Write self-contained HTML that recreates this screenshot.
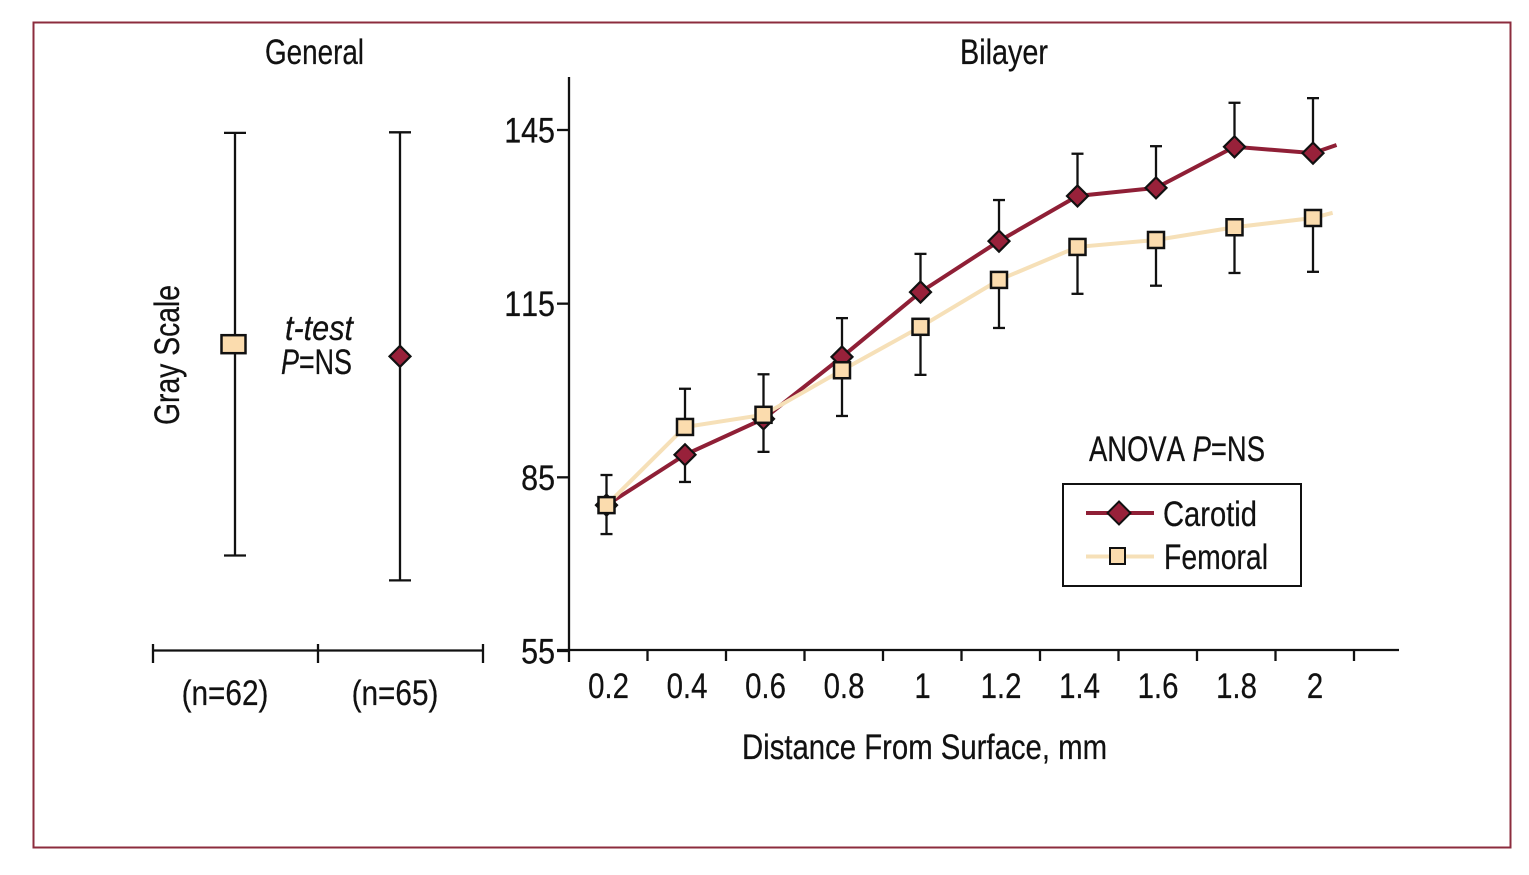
<!DOCTYPE html>
<html lang="en">
<head>
<meta charset="utf-8">
<title>Gray Scale: General and Bilayer</title>
<style>
html,body{margin:0;padding:0;background:#fff;width:1529px;height:875px;overflow:hidden}
svg{display:block}
text{font-family:"Liberation Sans",sans-serif;font-size:35px;fill:#111;font-kerning:none;stroke:#111;stroke-width:0.25px}
</style>
</head>
<body>
<svg id="figure" xmlns="http://www.w3.org/2000/svg" width="1529" height="875" viewBox="0 0 1529 875">
  <rect x="33.5" y="22.5" width="1477" height="825" fill="#fff" stroke="#8c2c3e" stroke-width="2"/>
  <g id="general-panel"></g>
  <g id="bilayer-panel"></g>

  <text x="265" y="64" textLength="99" lengthAdjust="spacingAndGlyphs">General</text>
  <text x="960" y="64" textLength="88" lengthAdjust="spacingAndGlyphs">Bilayer</text>
  <text transform="translate(179,425) rotate(-90)" textLength="140" lengthAdjust="spacingAndGlyphs">Gray Scale</text>
  <text x="285" y="340" font-style="italic" textLength="68" lengthAdjust="spacingAndGlyphs">t-test</text>
  <text x="281" y="374" textLength="71" lengthAdjust="spacingAndGlyphs"><tspan font-style="italic">P</tspan>=NS</text>
  <text x="742" y="759" textLength="365" lengthAdjust="spacingAndGlyphs">Distance From Surface, mm</text>
  <text x="1089" y="461" textLength="176" lengthAdjust="spacingAndGlyphs">ANOVA <tspan font-style="italic">P</tspan>=NS</text>

  <g>
    <rect x="1063" y="484" width="238" height="102" fill="#fff" stroke="#111" stroke-width="2"/>
    <g>
      <line x1="1086" y1="513" x2="1154" y2="513" stroke="#8f1f36" stroke-width="4"/>
      <polygon points="1119,501.5 1130.5,513 1119,524.5 1107.5,513" fill="#98213a" stroke="#111" stroke-width="2"/>
      <text x="1163" y="526" textLength="94" lengthAdjust="spacingAndGlyphs">Carotid</text>
    </g>
    <g>
      <line x1="1086" y1="556.5" x2="1154" y2="556.5" stroke="#f6e0b8" stroke-width="4"/>
      <rect x="1110" y="548" width="15" height="16" fill="#fbdcae" stroke="#111" stroke-width="2"/>
      <text x="1164" y="569" textLength="104" lengthAdjust="spacingAndGlyphs">Femoral</text>
    </g>
  </g>
</svg>
<script>
// Bilayer panel data
const distances = [0.2, 0.4, 0.6, 0.8, 1, 1.2, 1.4, 1.6, 1.8, 2];
const distanceLabels = ['0.2', '0.4', '0.6', '0.8', '1', '1.2', '1.4', '1.6', '1.8', '2'];
const yTickValues = [55, 85, 115, 145];
const carotidMeans = [80.2, 88.9, 95.1, 105.8, 117.0, 125.8, 133.6, 135.0, 142.1, 141.0];
const carotidUpper = [85.4, null, null, 112.5, 123.6, 132.9, 140.9, 142.2, 149.7, 150.5];
const carotidLower = [75.2, 84.2, 89.4, null, null, null, null, null, null, null];
const carotidLineEnd = [2.06, 142.4];
const femoralMeans = [80.2, 93.7, 95.8, 103.5, 111.0, 119.1, 124.8, 126.0, 128.2, 129.8];
const femoralUpper = [null, 100.3, 102.8, null, null, null, null, null, null, null];
const femoralLower = [null, null, null, 95.6, 102.7, 110.8, 116.7, 118.1, 120.3, 120.5];
const femoralLineEnd = [2.05, 130.7];

// General panel data
const generalGroups = ['(n=62)', '(n=65)'];
const generalMeans = [108.0, 105.9];
const generalDeviations = [36.5, 38.7];

const SVG_NS = 'http://www.w3.org/2000/svg';
const INK = '#111';
const CAROTID_LINE = '#8f1f36';
const CAROTID_FILL = '#98213a';
const FEMORAL_LINE = '#f6e0b8';
const FEMORAL_FILL = '#fbdcae';

function yScale(v) { return 651 - (v - 55) * 5.789; }
function xScale(d) { return 606.5 + (d - 0.2) / 0.2 * 78.5; }
function bandEdge(i) { return 569 + i * 78.5; }
function groupX(i) { return 235 + i * 165; }

function make(parent, tag, attrs) {
  const el = document.createElementNS(SVG_NS, tag);
  for (const k in attrs) el.setAttribute(k, attrs[k]);
  parent.appendChild(el);
  return el;
}
function seg(parent, x1, y1, x2, y2, w) {
  return make(parent, 'line', { x1: x1, y1: y1, x2: x2, y2: y2, stroke: INK, 'stroke-width': w || 2.3 });
}
function diamond(parent, cx, cy, r) {
  return make(parent, 'polygon', {
    points: [cx, cy - r, cx + r, cy, cx, cy + r, cx - r, cy].join(' '),
    fill: CAROTID_FILL, stroke: INK, 'stroke-width': 2.2
  });
}
function square(parent, cx, cy, halfW, halfH) {
  return make(parent, 'rect', {
    x: cx - halfW, y: cy - halfH, width: halfW * 2, height: halfH * 2,
    fill: FEMORAL_FILL, stroke: INK, 'stroke-width': 2.5
  });
}
function drawBar(parent, x, y1, y2) {
  seg(parent, x, y1, x, y2);
  seg(parent, x - 6, y2, x + 6, y2);
}

const general = document.getElementById('general-panel');
const bilayer = document.getElementById('bilayer-panel');

// General panel axis
const generalAxis = make(general, 'g', {});


seg(generalAxis, 153, 650.5, 483, 650.5);
[0, 1, 2].forEach(function (i) {
  const tickX = 153 + i * 165;
  const tick = seg(generalAxis, tickX, 644, tickX, 663);
  
  
});
generalGroups.forEach(function (label, i) {
  const t = make(general, 'text', { transform: 'translate(' + (225 + i * 170) + ',705) scale(0.85,1)', 'text-anchor': 'middle' });
  t.textContent = label;
  
  
});
generalMeans.forEach(function (m, i) {
  const g = make(general, 'g', {});
  
  
  const x = groupX(i);
  const top = yScale(m + generalDeviations[i]);
  const bottom = yScale(m - generalDeviations[i]);
  seg(g, x, top, x, bottom);
  seg(g, x - 11, top, x + 11, top);
  seg(g, x - 11, bottom, x + 11, bottom);
  if (i === 0) {
    square(g, x - 1.5, yScale(m), 12, 9);
  } else {
    diamond(g, x, yScale(m), 10.5);
  }
});

// Bilayer axes
const axes = make(bilayer, 'g', {});


const yAxisLine = seg(axes, 569, 77, 569, 662);


const xAxisLine = seg(axes, 557, 650, 1399, 650);


for (let i = 1; i <= distances.length; i++) {
  const xTick = seg(axes, bandEdge(i), 650, bandEdge(i), 661);
  
  
}
yTickValues.forEach(function (v) {
  const yTick = seg(axes, 557, yScale(v), 569, yScale(v));
  
  
  const t = make(axes, 'text', { transform: 'translate(555,' + (yScale(v) + 12.5) + ') scale(0.87,1)', 'text-anchor': 'end' });
  t.textContent = String(v);
  
  
});
distanceLabels.forEach(function (label, i) {
  const t = make(axes, 'text', { transform: 'translate(' + (xScale(distances[i]) + 2) + ',698) scale(0.84,1)', 'text-anchor': 'middle' });
  t.textContent = label;
  
  
});

function drawSeries(name, means, upper, lower, lineEnd, colour, drawMarker) {
  const g = make(bilayer, 'g', {});
  
  
  means.forEach(function (m, i) {
    const x = xScale(distances[i]);
    if (upper[i] !== null) drawBar(g, x, yScale(m), yScale(upper[i]));
    if (lower[i] !== null) drawBar(g, x, yScale(m), yScale(lower[i]));
  });
  const pts = means.map(function (m, i) { return xScale(distances[i]) + ',' + yScale(m); });
  pts.push(xScale(lineEnd[0]) + ',' + yScale(lineEnd[1]));
  const line = make(g, 'polyline', { points: pts.join(' '), fill: 'none', stroke: colour, 'stroke-width': 4 });
  
  
  means.forEach(function (m, i) {
    const mark = drawMarker(g, xScale(distances[i]), yScale(m));
    
    
  });
}
drawSeries('carotid', carotidMeans, carotidUpper, carotidLower, carotidLineEnd, CAROTID_LINE, function (g, x, y) {
  return diamond(g, x, y, 10.5);
});
drawSeries('femoral', femoralMeans, femoralUpper, femoralLower, femoralLineEnd, FEMORAL_LINE, function (g, x, y) {
  return square(g, x, y, 8, 8);
});
</script>
</body>
</html>
